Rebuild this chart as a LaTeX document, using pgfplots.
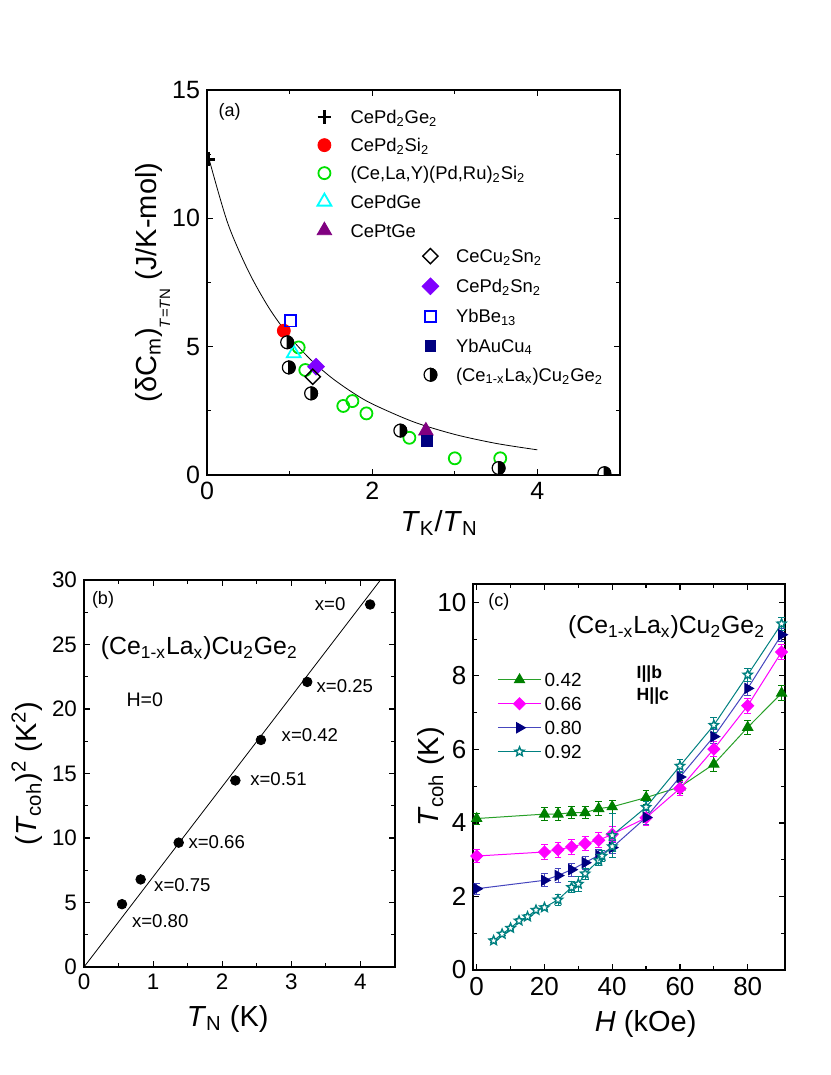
\documentclass[border=0pt]{standalone}
\usepackage{fontspec}
\setmainfont{Liberation Sans}
\usepackage{pgfplots}
\pgfplotsset{compat=1.18}
\definecolor{lgreen}{RGB}{0,225,0}
\definecolor{acyan}{RGB}{0,255,255}
\definecolor{apurple}{RGB}{128,0,128}
\definecolor{aviolet}{RGB}{128,0,255}
\definecolor{anavy}{RGB}{0,0,128}
\definecolor{cgreen}{RGB}{0,128,0}
\definecolor{cgreenl}{RGB}{40,160,40}
\definecolor{cmag}{RGB}{255,0,255}
\definecolor{cnavyl}{RGB}{70,70,190}
\definecolor{cteal}{RGB}{0,128,128}
\pgfdeclareplotmark{halfcirc}{%
  \pgfpathcircle{\pgfpointorigin}{\pgfplotmarksize}%
  \pgfsetfillcolor{white}\pgfusepath{fill,stroke}%
  \pgfpathmoveto{\pgfpoint{0pt}{\pgfplotmarksize}}%
  \pgfpatharc{90}{-90}{\pgfplotmarksize}%
  \pgfpathclose
  \pgfsetfillcolor{black}\pgfusepath{fill,stroke}}
\pgfdeclareplotmark{ostar}{%
  \pgfpathmoveto{\pgfpointpolar{90}{\pgfplotmarksize}}%
  \pgfpathlineto{\pgfpointpolar{126}{0.45\pgfplotmarksize}}%
  \pgfpathlineto{\pgfpointpolar{162}{\pgfplotmarksize}}%
  \pgfpathlineto{\pgfpointpolar{198}{0.45\pgfplotmarksize}}%
  \pgfpathlineto{\pgfpointpolar{234}{\pgfplotmarksize}}%
  \pgfpathlineto{\pgfpointpolar{270}{0.45\pgfplotmarksize}}%
  \pgfpathlineto{\pgfpointpolar{306}{\pgfplotmarksize}}%
  \pgfpathlineto{\pgfpointpolar{342}{0.45\pgfplotmarksize}}%
  \pgfpathlineto{\pgfpointpolar{18}{\pgfplotmarksize}}%
  \pgfpathlineto{\pgfpointpolar{54}{0.45\pgfplotmarksize}}%
  \pgfpathclose
  \pgfusepath{fill,stroke}}
\newcommand\fs[1]{\fontsize{#1}{#1}\selectfont}
\pgfplotsset{
  every axis/.append style={scale only axis, axis line style={line width=0.9pt},
    tick style={line width=0.6pt, black}, tick align=inside,
    major tick length=2.8pt, minor tick length=2pt,
    /pgf/number format/assume math mode=true},
  every axis label/.append style={font=\fs{14.5}},
  markleg/.style={legend image code/.code={\path (0pt,0pt) (18.4pt,0pt); \draw[##1] plot coordinates {(8.5pt,0pt)};}},
}
\begin{document}
\begin{tikzpicture}
\path[use as bounding box] (0,0) rectangle (415pt,537.5pt);
% ---------------- (a) ----------------
\begin{axis}[at={(103.5pt,300pt)}, anchor=south west, width=206.5pt, height=192.5pt,
  xmin=0, xmax=5, ymin=0, ymax=15, xtick={0,2,4}, ytick={0,5,10,15},
  minor x tick num=1, minor y tick num=1, clip marker paths=true,
  ticklabel style={font=\fs{12.5}},
  xlabel={\textit{T}\textsubscript{K}/\textit{T}\textsubscript{N}},
  ylabel={(δC\textsubscript{m})\raisebox{-7pt}{\fs{7.5}\textit{T}=\textit{T}N} (J/K-mol)},
  xlabel style={at={(axis description cs:0.562,-0.147)}, anchor=base},
  ylabel style={at={(axis description cs:-0.123,0.5)}, anchor=base},
]
\addplot[black, thin, smooth] coordinates {(0.03,12.25) (0.25,9.82) (0.5,7.95) (0.75,6.51) (1,5.39) (1.25,4.51) (1.5,3.81) (1.75,3.24) (2,2.77) (2.5,2.07) (3,1.58) (3.5,1.23) (4,0.98)};
\addplot[only marks, mark=+, mark size=3.4pt, line width=1.3pt, black] coordinates {(0.02,12.3)};
\addplot[only marks, mark=*, mark size=3.25pt, red, mark options={fill=red}] coordinates {(0.93,5.62)};
\addplot[only marks, mark=o, mark size=3.0pt, lgreen, line width=0.9pt] coordinates {(1.11,4.97) (1.19,4.09) (1.65,2.69) (1.76,2.88) (1.93,2.40) (2.45,1.45) (3.00,0.65) (3.55,0.65)};
\addplot[only marks, mark=triangle, mark size=4pt, acyan, line width=0.9pt] coordinates {(1.05,4.74)};
\addplot[only marks, mark=triangle*, mark size=4.2pt, apurple, mark options={fill=apurple}] coordinates {(2.65,1.72)};
\addplot[only marks, mark=square*, mark size=2.95pt, aviolet, mark options={fill=aviolet, rotate=45}] coordinates {(1.32,4.22)};
\addplot[only marks, mark=square, mark size=2.7pt, black, line width=0.7pt, mark options={rotate=45}] coordinates {(1.28,3.83)};
\addplot[only marks, mark=square, mark size=2.8pt, blue, line width=0.8pt] coordinates {(1.01,6.01)};
\addplot[only marks, mark=square*, mark size=2.7pt, anavy, mark options={fill=anavy}] coordinates {(2.66,1.34)};
\addplot[only marks, mark=halfcirc, mark size=3.2pt, black, line width=0.6pt] coordinates {(0.97,5.17) (0.99,4.19) (1.26,3.18) (2.34,1.73) (3.53,0.27) (4.81,0.07)};
\node[anchor=west, inner sep=0pt, font=\fs{9}] at (axis cs:0.137,14.15) {(a)};
\end{axis}
% legend group 1 of (a)
\begin{axis}[at={(103.5pt,300pt)}, anchor=south west, width=206.5pt, height=192.5pt,
  xmin=0, xmax=5, ymin=0, ymax=15, hide axis, markleg,
  legend cell align=left,
  legend style={draw=none, fill=none, inner sep=0pt, at={(axis cs:1.195,14.25)}, anchor=north west,
    font=\fs{9.2}, row sep=6.5pt, nodes={inner xsep=2.5pt, inner ysep=0pt, text height=7pt, text depth=0.5pt}},
]
\addlegendimage{only marks, mark=+, mark size=3.4pt, line width=1.3pt, black}
\addlegendentry{CePd\textsubscript{2}Ge\textsubscript{2}}
\addlegendimage{only marks, mark=*, mark size=3.25pt, red, mark options={fill=red}}
\addlegendentry{CePd\textsubscript{2}Si\textsubscript{2}}
\addlegendimage{only marks, mark=o, mark size=3.0pt, lgreen, line width=0.9pt}
\addlegendentry{(Ce,La,Y)(Pd,Ru)\textsubscript{2}Si\textsubscript{2}}
\addlegendimage{only marks, mark=triangle, mark size=4pt, acyan, line width=0.9pt}
\addlegendentry{CePdGe}
\addlegendimage{only marks, mark=triangle*, mark size=4.2pt, apurple, mark options={fill=apurple}}
\addlegendentry{CePtGe}
\end{axis}
% legend group 2 of (a)
\begin{axis}[at={(103.5pt,300pt)}, anchor=south west, width=206.5pt, height=192.5pt,
  xmin=0, xmax=5, ymin=0, ymax=15, hide axis, markleg,
  legend cell align=left,
  legend style={draw=none, fill=none, inner sep=0pt, at={(axis cs:2.485,8.84)}, anchor=north west,
    font=\fs{9.2}, row sep=7.1pt, nodes={inner xsep=2.5pt, inner ysep=0pt, text height=7pt, text depth=0.5pt}},
]
\addlegendimage{only marks, mark=square, mark size=2.7pt, black, line width=0.7pt, mark options={rotate=45}}
\addlegendentry{CeCu\textsubscript{2}Sn\textsubscript{2}}
\addlegendimage{only marks, mark=square*, mark size=2.95pt, aviolet, mark options={fill=aviolet, rotate=45}}
\addlegendentry{CePd\textsubscript{2}Sn\textsubscript{2}}
\addlegendimage{only marks, mark=square, mark size=2.8pt, blue, line width=0.8pt}
\addlegendentry{YbBe\textsubscript{13}}
\addlegendimage{only marks, mark=square*, mark size=2.7pt, anavy, mark options={fill=anavy}}
\addlegendentry{YbAuCu\textsubscript{4}}
\addlegendimage{only marks, mark=halfcirc, mark size=3.2pt, black, line width=0.6pt}
\addlegendentry{(Ce\textsubscript{1-x}La\textsubscript{x})Cu\textsubscript{2}Ge\textsubscript{2}}
\end{axis}
% ---------------- (b) ----------------
\begin{axis}[at={(42pt,54pt)}, anchor=south west, width=155.5pt, height=193.5pt,
  xmin=0, xmax=4.5, ymin=0, ymax=30, xtick={0,1,2,3,4}, ytick={0,5,...,30},
  minor x tick num=1, minor y tick num=1,
  ticklabel style={font=\fs{11.2}},
  xlabel={\textit{T}\textsubscript{N} (K)},
  ylabel={(\textit{T}\textsubscript{coh})\textsuperscript{2} (K\textsuperscript{2})},
  xlabel style={at={(axis description cs:0.462,-0.154)}, anchor=base},
  ylabel style={at={(axis description cs:-0.154,0.5)}, anchor=base},
]
\addplot[black, thin] coordinates {(0,0) (4.5,31.47)};
\addplot[only marks, mark=*, mark size=2.4pt, black] coordinates {(4.14,28.1) (3.23,22.1) (2.56,17.6) (2.19,14.46) (1.37,9.64) (0.82,6.79) (0.55,4.87)};
\node[anchor=west, inner sep=0pt, font=\fs{9}] at (axis cs:0.11,28.5) {(b)};
\node[anchor=base west, inner sep=0pt, font=\fs{12.4}] at (axis cs:0.24,24.19) {(Ce\textsubscript{1-x}La\textsubscript{x})Cu\textsubscript{2}Ge\textsubscript{2}};
\node[anchor=base west, inner sep=0pt, font=\fs{9.8}] at (axis cs:0.61,20.18) {H=0};
\node[anchor=base west, inner sep=0pt, font=\fs{9.3}] at (axis cs:3.335,27.67) {x=0};
\node[anchor=base west, inner sep=0pt, font=\fs{9.3}] at (axis cs:3.36,21.26) {x=0.25};
\node[anchor=base west, inner sep=0pt, font=\fs{9.3}] at (axis cs:2.855,17.47) {x=0.42};
\node[anchor=base west, inner sep=0pt, font=\fs{9.3}] at (axis cs:2.40,14.06) {x=0.51};
\node[anchor=base west, inner sep=0pt, font=\fs{9.3}] at (axis cs:1.507,9.20) {x=0.66};
\node[anchor=base west, inner sep=0pt, font=\fs{9.3}] at (axis cs:1.01,5.84) {x=0.75};
\node[anchor=base west, inner sep=0pt, font=\fs{9.3}] at (axis cs:0.689,3.07) {x=0.80};
\end{axis}
% ---------------- (c) ----------------
\begin{axis}[at={(236.65pt,52.5pt)}, anchor=south west, width=155.85pt, height=193pt,
  xmin=-1, xmax=91, ymin=0, ymax=10.5, xtick={0,20,40,60,80}, ytick={0,2,...,10},
  minor x tick num=1, minor y tick num=1,
  ticklabel style={font=\fs{13}},
  xlabel={\textit{H} (kOe)},
  ylabel={\textit{T}\textsubscript{coh} (K)},
  xlabel style={at={(axis description cs:0.553,-0.16)}, anchor=base},
  ylabel style={at={(axis description cs:-0.112,0.5)}, anchor=base},
  legend cell align=left,
  legend image code/.code={\draw[mark repeat=2,mark phase=2,#1] plot coordinates {(0cm,0cm) (0.38cm,0cm) (0.76cm,0cm)};},
  legend style={draw=none, fill=none, inner sep=0pt, at={(axis cs:6.0,8.11)}, anchor=north west,
    font=\fs{9.5}, row sep=4.5pt, nodes={inner xsep=1.5pt, inner ysep=0pt, text height=7pt, text depth=0.5pt}},
  error bars/y dir=both, error bars/y explicit,
  error bars/error mark options={rotate=90, mark size=1.7pt, line width=0.5pt},
]
\addplot[cgreenl, line width=0.5pt, mark=triangle*, mark size=2.9pt, mark options={fill=cgreen, draw=cgreen},
  error bars/error bar style={cgreen, line width=0.5pt}]
  table[x=x, y=y, y error=e] {
x y e
0 4.12 0.15
20 4.24 0.18
24 4.24 0.18
28 4.28 0.17
32 4.28 0.17
36 4.39 0.18
40 4.44 0.18
50 4.69 0.18
60 4.98 0.18
70 5.60 0.2
80 6.60 0.2
90 7.53 0.2
};
\addlegendentry{0.42}
\addplot[cmag, line width=0.5pt, mark=square*, mark size=2.1pt, mark options={fill=cmag, draw=cmag, rotate=45},
  error bars/error bar style={cmag, line width=0.5pt}]
  table[x=x, y=y, y error=e] {
x y e
0 3.10 0.18
20 3.21 0.2
24 3.27 0.2
28 3.35 0.2
32 3.44 0.2
36 3.53 0.2
40 3.69 0.2
50 4.14 0.2
60 4.94 0.18
70 6.01 0.2
80 7.19 0.2
90 8.65 0.2
};
\addlegendentry{0.66}
\addplot[cnavyl, line width=0.5pt, mark=triangle*, mark size=2.9pt, mark options={fill=anavy, draw=anavy, rotate=-90},
  error bars/error bar style={cnavyl, line width=0.5pt}]
  table[x=x, y=y, y error=e] {
x y e
0 2.21 0.15
20 2.44 0.18
24 2.57 0.18
28 2.73 0.18
32 2.92 0.18
36 3.12 0.15
40 3.33 0.15
50 4.15 0.18
60 5.25 0.15
70 6.35 0.18
80 7.66 0.18
90 9.12 0.18
};
\addlegendentry{0.80}
\addplot[cteal, line width=0.5pt, mark=ostar, mark size=2.4pt, mark options={fill=white, draw=cteal, line width=0.7pt},
  error bars/error bar style={cteal, line width=0.5pt}]
  table[x=x, y=y, y error=e] {
x y e
5 0.80 0.05
7.5 0.98 0.05
10 1.14 0.05
12.5 1.34 0.05
15 1.45 0.05
17.5 1.63 0.05
20 1.70 0.05
24 1.91 0.15
28 2.25 0.15
30 2.34 0.2
32 2.62 0.15
36 2.98 0.15
37 3.10 0.15
40 3.36 0.15
40 3.66 0.6
50 4.43 0.15
60 5.55 0.18
70 6.66 0.2
80 8.03 0.18
90 9.42 0.18
};
\addlegendentry{0.92}
\node[anchor=west, inner sep=0pt, font=\fs{9}] at (axis cs:3.34,10.01) {(c)};
\node[anchor=base west, inner sep=0pt, font=\fs{12.4}] at (axis cs:26.9,9.14) {(Ce\textsubscript{1-x}La\textsubscript{x})Cu\textsubscript{2}Ge\textsubscript{2}};
\node[anchor=base west, inner sep=0pt, font=\bfseries\fs{8.8}] at (axis cs:47.1,7.94) {I||b};
\node[anchor=base west, inner sep=0pt, font=\bfseries\fs{8.8}] at (axis cs:47.1,7.32) {H||c};
\end{axis}
\end{tikzpicture}
\end{document}
